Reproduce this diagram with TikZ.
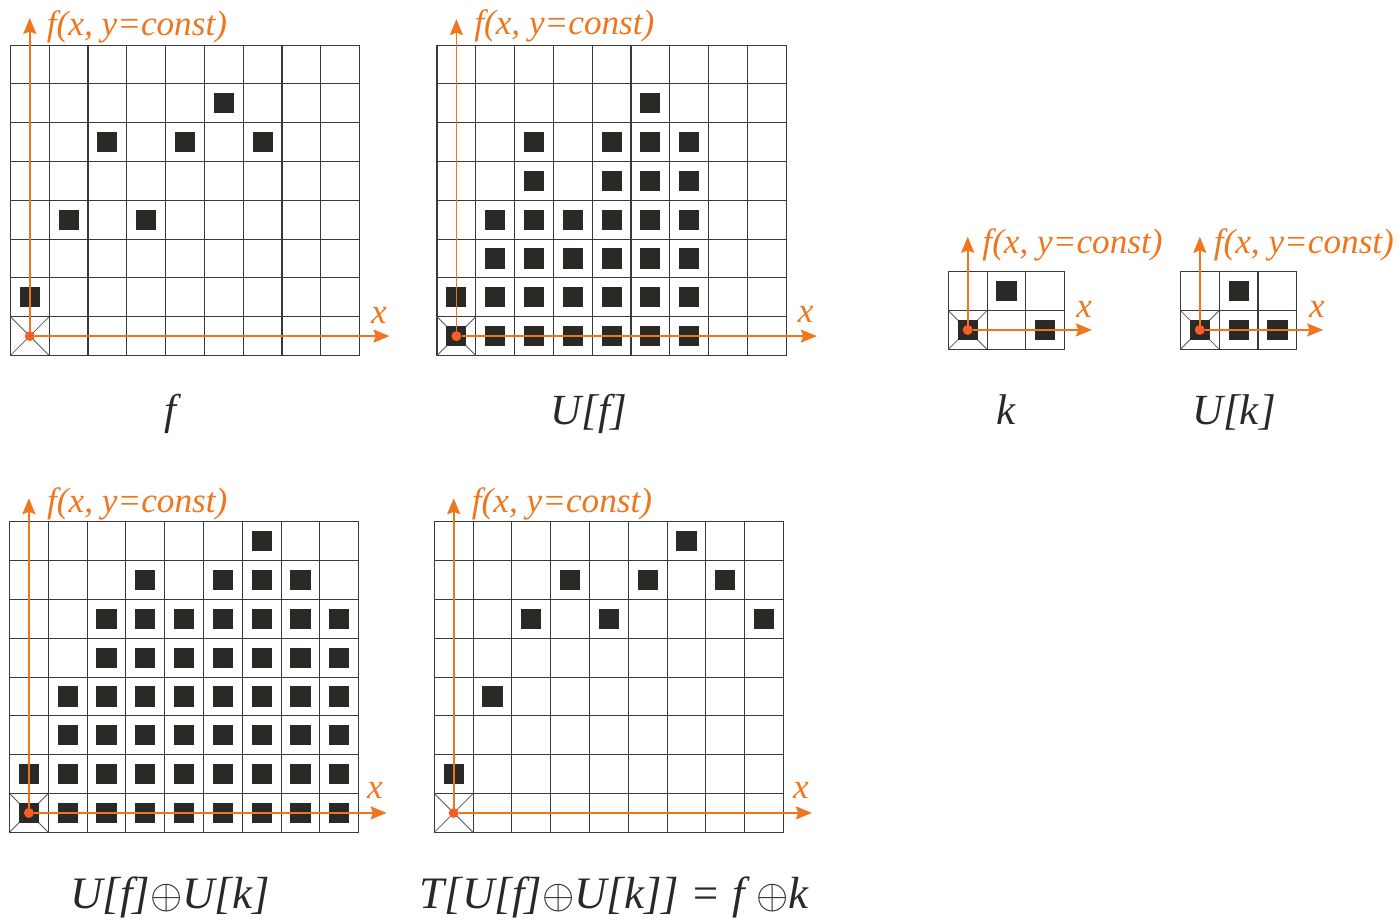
\documentclass[tikz,border=0pt]{standalone}
\usepackage{fontspec}
\setmainfont{Liberation Serif}
\usetikzlibrary{arrows.meta}
\definecolor{axisorange}{RGB}{240, 118, 30}
\definecolor{dotorange}{RGB}{250, 92, 38}
\definecolor{gridink}{RGB}{58, 58, 58}
\definecolor{pixink}{RGB}{43, 41, 38}
\tikzset{
  gridline/.style  = {draw=gridink, line width=0.55pt, line cap=rect},
  crossline/.style = {draw=gridink!85, line width=0.4pt},
  pixel/.style     = {fill=pixink},
}

\begin{document}
\begin{tikzpicture}[
    x=0.5pt, y=-0.5pt,
    axisarrow/.style = {-{Stealth[length=8pt, width=6.5pt, inset=1.2pt]}, draw=axisorange, line width=0.9pt},
    odot/.style      = {circle, fill=dotorange, inner sep=0pt, minimum size=5pt},
    fxlab/.style     = {font=\fontsize{17.6}{21}\selectfont\itshape, text=axisorange, anchor=base west, inner sep=0pt},
    xlab/.style      = {font=\fontsize{17.6}{21}\selectfont\itshape, text=axisorange, inner sep=0pt},
    figcap/.style    = {font=\fontsize{21.5}{26}\selectfont\itshape, text=pixink, anchor=base, inner sep=0pt},
    bigcap/.style    = {figcap, font=\fontsize{22.5}{27}\selectfont\itshape},
  ]
    \def\cs{19.4pt}  % cell size
    \useasboundingbox (0,0) rectangle (1397,920);

    % ── f ──
    \begin{scope}[shift={(10.4,355.5)}, x=\cs, y=\cs]
      \foreach \i in {0,...,9} \draw[gridline] (\i,0) -- (\i,8);
      \foreach \j in {0,...,8} \draw[gridline] (0,\j) -- (9,\j);
      \draw[crossline] (0,0) -- (1,1) (0,1) -- (1,0);
      \foreach \c/\r in {0/1, 1/3, 3/3, 2/5, 4/5, 6/5, 5/6}
        \fill[pixel] (\c+.24,\r+.24) rectangle ++(.52,.52);
      \node[odot] (fo) at (.5,.5) {};
      \coordinate (fxt) at (9.77,.5);
      \coordinate (fyt) at (.5,8.7);
      \draw[axisarrow] (fo) -- (fxt);
      \draw[axisarrow] (fo) -- (fyt);
      \node[fxlab] (flab) at (.93,8.26) {f(x, y=const)};
      \node[xlab] (fxl) at (9.5,1.04) {x};
    \end{scope}
    \node[figcap] (fcap) at (170,424) {f};

    % ── U[f] ──
    \begin{scope}[shift={(437,355.5)}, x=\cs, y=\cs]
      \foreach \i in {0,...,9} \draw[gridline] (\i,0) -- (\i,8);
      \foreach \j in {0,...,8} \draw[gridline] (0,\j) -- (9,\j);
      \draw[crossline] (0,0) -- (1,1) (0,1) -- (1,0);
      \foreach \r/\cl in {0/{0,...,6}, 1/{0,...,6}, 2/{1,...,6}, 3/{1,...,6}, 4/{2,4,5,6}, 5/{2,4,5,6}, 6/{5}}
        \foreach \c in \cl
          \fill[pixel] (\c+.24,\r+.24) rectangle ++(.52,.52);
      \node[odot] (ufo) at (.5,.5) {};
      \coordinate (ufxt) at (9.79,.5);
      \coordinate (ufyt) at (.5,8.67);
      \draw[axisarrow] (ufo) -- (ufxt);
      \draw[axisarrow] (ufo) -- (ufyt);
      \node[fxlab] (uflab) at (.95,8.28) {f(x, y=const)};
      \node[xlab] (ufxl) at (9.5,1.05) {x};
    \end{scope}
    \node[figcap] (ufcap) at (589,424) {U[f]};

    % ── k ──
    \begin{scope}[shift={(948.3,349.3)}, x=\cs, y=\cs]
      \foreach \i in {0,...,3} \draw[gridline] (\i,0) -- (\i,2);
      \foreach \j in {0,...,2} \draw[gridline] (0,\j) -- (3,\j);
      \draw[crossline] (0,0) -- (1,1) (0,1) -- (1,0);
      \foreach \c/\r in {0/0, 2/0, 1/1}
        \fill[pixel] (\c+.24,\r+.24) rectangle ++(.52,.52);
      \node[odot] (ko) at (.5,.5) {};
      \coordinate (kxt) at (3.7,.5);
      \coordinate (kyt) at (.5,2.9);
      \draw[axisarrow] (ko) -- (kxt);
      \draw[axisarrow] (ko) -- (kyt);
      \node[fxlab] (klab) at (.87,2.48) {f(x, y=const)};
      \node[xlab] (kxl) at (3.5,1.02) {x};
    \end{scope}
    \node[figcap] (kcap) at (1006,424) {k};

    % ── U[k] ──
    \begin{scope}[shift={(1180.4,349.3)}, x=\cs, y=\cs]
      \foreach \i in {0,...,3} \draw[gridline] (\i,0) -- (\i,2);
      \foreach \j in {0,...,2} \draw[gridline] (0,\j) -- (3,\j);
      \draw[crossline] (0,0) -- (1,1) (0,1) -- (1,0);
      \foreach \c/\r in {0/0, 1/0, 2/0, 1/1}
        \fill[pixel] (\c+.24,\r+.24) rectangle ++(.52,.52);
      \node[odot] (uko) at (.5,.5) {};
      \coordinate (ukxt) at (3.68,.5);
      \coordinate (ukyt) at (.5,2.9);
      \draw[axisarrow] (uko) -- (ukxt);
      \draw[axisarrow] (uko) -- (ukyt);
      \node[fxlab] (uklab) at (.85,2.48) {f(x, y=const)};
      \node[xlab] (ukxl) at (3.52,1.02) {x};
    \end{scope}
    \node[figcap] (ukcap) at (1234,424) {U[k]};

    % ── U[f] + U[k] ──
    \begin{scope}[shift={(9.5,832.3)}, x=\cs, y=\cs]
      \foreach \i in {0,...,9} \draw[gridline] (\i,0) -- (\i,8);
      \foreach \j in {0,...,8} \draw[gridline] (0,\j) -- (9,\j);
      \draw[crossline] (0,0) -- (1,1) (0,1) -- (1,0);
      \foreach \r/\cl in {0/{0,...,8}, 1/{0,...,8}, 2/{1,...,8}, 3/{1,...,8}, 4/{2,...,8}, 5/{2,...,8}, 6/{3,5,6,7}, 7/{6}}
        \foreach \c in \cl
          \fill[pixel] (\c+.24,\r+.24) rectangle ++(.52,.52);
      \node[odot] (so) at (.5,.5) {};
      \coordinate (sxt) at (9.72,.5);
      \coordinate (syt) at (.5,8.61);
      \draw[axisarrow] (so) -- (sxt);
      \draw[axisarrow] (so) -- (syt);
      \node[fxlab] (slab) at (.96,8.23) {f(x, y=const)};
      \node[xlab] (sxl) at (9.42,1.09) {x};
    \end{scope}
    \node[bigcap] (scap) at (170,908) {U[f]$\oplus$U[k]};

    % ── T[...] = f + k ──
    \begin{scope}[shift={(434.3,832.3)}, x=\cs, y=\cs]
      \foreach \i in {0,...,9} \draw[gridline] (\i,0) -- (\i,8);
      \foreach \j in {0,...,8} \draw[gridline] (0,\j) -- (9,\j);
      \draw[crossline] (0,0) -- (1,1) (0,1) -- (1,0);
      \foreach \c/\r in {0/1, 1/3, 2/5, 4/5, 8/5, 3/6, 5/6, 7/6, 6/7}
        \fill[pixel] (\c+.24,\r+.24) rectangle ++(.52,.52);
      \node[odot] (to) at (.5,.5) {};
      \coordinate (txt) at (9.73,.5);
      \coordinate (tyt) at (.5,8.61);
      \draw[axisarrow] (to) -- (txt);
      \draw[axisarrow] (to) -- (tyt);
      \node[fxlab] (tlab) at (.96,8.23) {f(x, y=const)};
      \node[xlab] (txl) at (9.45,1.09) {x};
    \end{scope}
    \node[bigcap] (tcap) at (614,908) {T[U[f]$\oplus$U[k]] = f $\oplus$k};

  \end{tikzpicture}
\end{document}
